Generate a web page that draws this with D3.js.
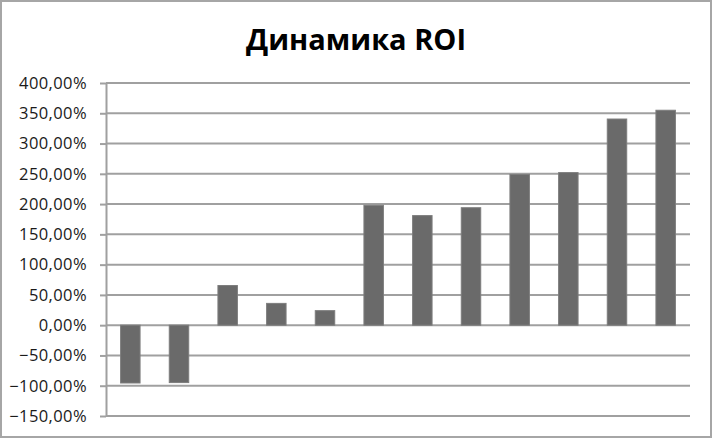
<!DOCTYPE html>
<html><head><meta charset="utf-8">
<script src="https://cdn.jsdelivr.net/npm/d3@7/dist/d3.min.js"></script>
<style>html,body{margin:0;padding:0;background:#fff;}</style>
</head><body>
<svg id="chart" width="713" height="439"></svg>
<script>
const title = "Динамика ROI";
const categories = ["1","2","3","4","5","6","7","8","9","10","11","12"];
const roiValues = [-95.5, -94.8, 65.5, 36, 24, 198, 181, 194, 249, 252, 340.5, 355];
const tickValues = [-150,-100,-50,0,50,100,150,200,250,300,350,400];

const svg = d3.select("#chart");
const W = 713, H = 439;
const m = {left:106, right:23, top:83, bottom:23};

svg.append("rect").attr("x",1).attr("y",1).attr("width",W-3).attr("height",H-3)
  .attr("fill","#fff").attr("stroke","#a6a6a6").attr("stroke-width",2);

const x = d3.scaleBand().domain(categories).range([m.left, W-m.right]).paddingInner(0.6).paddingOuter(0.3);
const y = d3.scaleLinear().domain([-150,400]).range([H-m.bottom, m.top]);

const fmt = v => d3.format(".2f")(v).replace(".", ",") + "%";

// gridlines
svg.append("g").selectAll("line").data(tickValues).join("line")
  .attr("x1",m.left).attr("x2",W-m.right)
  .attr("y1",d=>y(d)).attr("y2",d=>y(d))
  .attr("stroke","#a0a0a0").attr("stroke-width",2);

const yAxis = d3.axisLeft(y).tickValues(tickValues).tickSize(6).tickSizeOuter(0).tickFormat(fmt).tickPadding(13);
const g = svg.append("g").attr("transform",`translate(${m.left},0)`).call(yAxis);
g.select(".domain").attr("stroke","#a0a0a0").attr("stroke-width",2);
g.selectAll(".tick line").attr("stroke","#a0a0a0").attr("stroke-width",2);
g.selectAll(".tick text").attr("fill","#1a1a1a").style("font-family","'Open Sans', sans-serif")
  .style("font-size","16.5px").style("letter-spacing","0.4px");

svg.append("g").selectAll("rect").data(roiValues).join("rect")
  .attr("x",(d,i)=>x(categories[i]))
  .attr("width",x.bandwidth())
  .attr("y",d=>y(Math.max(0,d)))
  .attr("height",d=>Math.abs(y(d)-y(0)))
  .attr("fill","#6a6a6a").attr("stroke","#7d7d7d").attr("stroke-width",1);

svg.append("text").attr("x",356).attr("y",50).attr("text-anchor","middle")
  .style("font-family","'Open Sans', sans-serif").style("font-weight","bold").style("font-size","29px")
  .attr("fill","#000").text(title);
</script>
</body></html>
